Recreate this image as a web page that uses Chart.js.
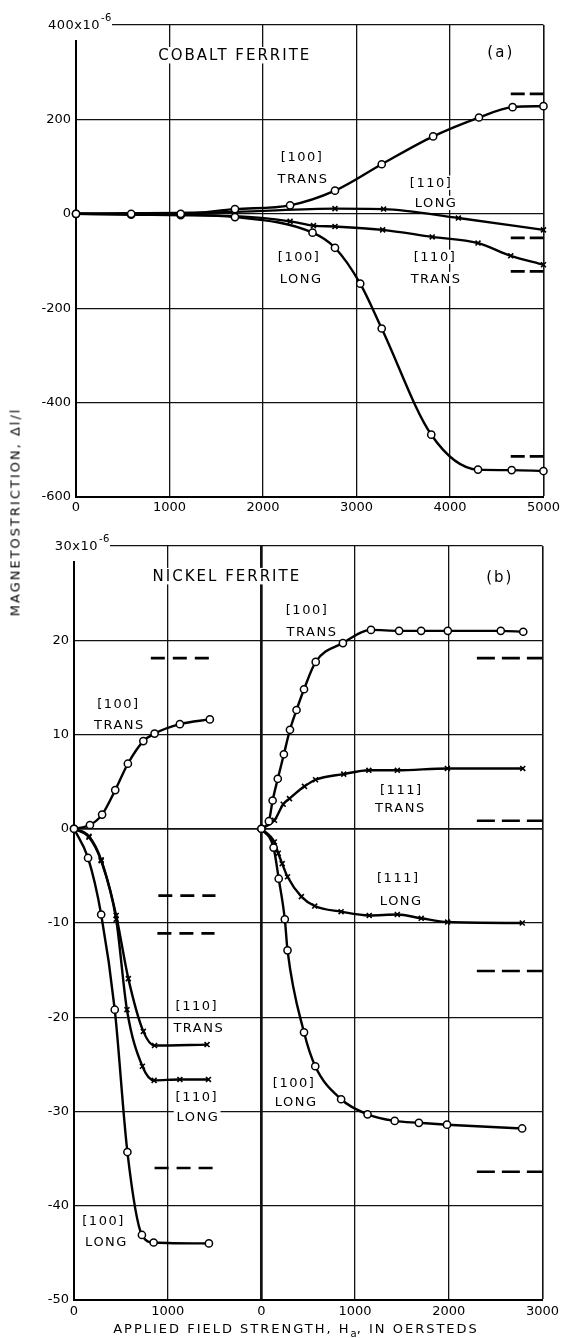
<!DOCTYPE html>
<html>
<head>
<meta charset="utf-8">
<script src="https://cdn.jsdelivr.net/npm/chart.js@4.4.0/dist/chart.umd.min.js"></script>
<style>
  body { margin: 0; background: #fff; }
  #page { position: relative; width: 563px; height: 1338px; overflow: hidden; font-family: "DejaVu Sans", sans-serif; color: #000; }
  canvas { position: absolute; left: 0; }
  #cobalt { top: 0; }
  #nickel { top: 520px; }
  .axis-title { position: absolute; font-size: 13px; letter-spacing: 2px; white-space: nowrap; }
  .axis-title sub { font-size: 10px; letter-spacing: 0; }
  #ytitle { left: 15px; top: 512px; transform: translate(-50%, -50%) rotate(-90deg); }
  #xtitle { left: 296px; top: 1330px; transform: translate(-50%, -50%); }
</style>
</head>
<body>
<div id="page">
  <canvas id="cobalt" width="563" height="520"></canvas>
  <canvas id="nickel" width="563" height="818"></canvas>
  <div class="axis-title" id="ytitle">MAGNETOSTRICTION, Δl/l</div>
  <div class="axis-title" id="xtitle">APPLIED FIELD STRENGTH, H<sub>a</sub>, IN OERSTEDS</div>
</div>
<script>
// (a) cobalt ferrite - field in oersteds, strain in units of 1e-6
const coField100T = [0, 590, 1120, 1700, 2290, 2770, 3270, 3820, 4310, 4670, 5000];
const co100Trans = [0, 0, 0, 10, 18, 49, 105, 164, 204, 226, 228];
const coField100L = [0, 590, 1120, 1700, 2530, 2770, 3040, 3270, 3800, 4300, 4660, 5000];
const co100Long = [0, -2, -3, -7, -40, -72, -148, -243, -468, -542, -543, -545];
const coField110L = [0, 1700, 2770, 3290, 4090, 5000];
const co110Long = [0, 4, 11, 10, -9, -34];
const coField110T = [0, 1700, 2290, 2540, 2770, 3280, 3810, 4300, 4650, 5000];
const co110Trans = [0, -5, -16, -25, -27, -34, -49, -62, -89, -108];
const coTheoryField = [4650, 5000];
const coTheory = [254, -51, -122, -514];

// (b) nickel ferrite, left panel
const niField100T = [0, 170, 300, 440, 575, 740, 860, 1130, 1450];
const ni100Trans = [0, 0.4, 1.5, 4.1, 6.9, 9.3, 10.1, 11.1, 11.6];
const niField100L = [0, 150, 290, 435, 570, 725, 850, 1440];
const ni100Long = [0, -3.1, -9.1, -19.2, -34.3, -43.1, -43.9, -44.0];
const niField110T = [0, 160, 290, 450, 580, 740, 860, 1420];
const ni110Trans = [0, -0.8, -3.3, -9.2, -15.9, -21.5, -23.0, -22.9];
const niField110L = [0, 160, 290, 450, 565, 730, 855, 1130, 1435];
const ni110Long = [0, -0.9, -3.4, -9.6, -19.2, -25.2, -26.7, -26.6, -26.6];
const niTheoryFrom = [820, 900, 890, 860];
const niTheoryTo = [1450, 1510, 1500, 1520];
const niTheory = [18.1, -7.1, -11.1, -36.0];

// (b) nickel ferrite, right panel (its zero sits at 2000 on the shared axis)
const rightOrigin = 2000;
const niRField100T = [0, 80, 120, 175, 240, 305, 375, 455, 580, 870, 1170, 1470, 1705, 1990, 2555, 2795];
const niR100Trans = [0, 0.8, 3.0, 5.3, 7.9, 10.5, 12.6, 14.8, 17.7, 19.7, 21.1, 21.0, 21.0, 21.0, 21.0, 20.9];
const niRField111T = [0, 140, 233, 300, 460, 578, 879, 1147, 1451, 1985, 2790];
const niR111Trans = [0, 0.9, 2.6, 3.2, 4.5, 5.2, 5.8, 6.2, 6.2, 6.4, 6.4];
const niRField111L = [0, 138, 180, 222, 279, 427, 569, 851, 1151, 1451, 1706, 1988, 2785];
const niR111Long = [0, -1.4, -2.6, -3.7, -5.1, -7.2, -8.2, -8.8, -9.2, -9.1, -9.5, -9.9, -10.0];
const niRField100L = [0, 130, 185, 250, 279, 455, 575, 851, 1133, 1423, 1681, 1981, 2783];
const niR100Long = [0, -2.0, -5.3, -9.6, -12.9, -21.6, -25.2, -28.7, -30.3, -31.0, -31.2, -31.4, -31.8];
const niRTheoryField = [2300, 3000];
const niRTheory = [18.1, 0.85, -15.1, -36.4];

// text on the plots, anchored in data units
const coTitles = [['COBALT FERRITE', 1688, 336], ['(a)', 4533, 343]];
const coNotes = [
  ['[100]', 2410, 121], ['TRANS', 2420, 74],
  ['[110]', 3790, 66], ['LONG', 3843, 23],
  ['[100]', 2378, -91], ['LONG', 2400, -138],
  ['[110]', 3832, -91], ['TRANS', 3843, -138],
];
const niTitles = [['NICKEL FERRITE', 1621, 26.8], ['(b)', 4534, 26.7]];
const niNotes = [
  ['[100]', 466, 13.3], ['TRANS', 477, 11.1],
  ['[100]', 2479, 23.2], ['TRANS', 2532, 20.9],
  ['[111]', 3485, 4.1], ['TRANS', 3475, 2.2],
  ['[111]', 3453, -5.2], ['LONG', 3485, -7.6],
  ['[100]', 2341, -26.9], ['LONG', 2362, -29.0],
  ['[110]', 1303, -18.8], ['TRANS', 1324, -21.1],
  ['[110]', 1303, -28.4], ['LONG', 1314, -30.5],
  ['[100]', 307, -41.6], ['LONG', 339, -43.8],
];

Chart.defaults.font.family = 'DejaVu Sans';
Chart.defaults.font.size = 13;
Chart.defaults.color = '#000';
Chart.defaults.animation = false;

const pts = (xs, ys, shift = 0) => xs.map((v, i) => ({ x: v + shift, y: ys[i] }));

function curve(data, marker, hideUpTo = -1) {
  const cross = marker === 'x';
  return {
    data,
    borderColor: '#000',
    borderWidth: 2.4,
    cubicInterpolationMode: 'monotone',
    pointStyle: cross ? 'crossRot' : 'circle',
    pointRadius: (c) => (c.raw && c.raw.x <= hideUpTo ? 0 : (cross ? 3.5 : 3.6)),
    pointBackgroundColor: '#fff',
    pointBorderColor: '#000',
    pointBorderWidth: cross ? 1.6 : 1.5,
    fill: false,
    clip: false,
  };
}

function theory(x0, x1, v, dash) {
  return {
    data: [{ x: x0, y: v }, { x: x1, y: v }],
    borderColor: '#000',
    borderWidth: 2.6,
    borderDash: dash,
    pointRadius: 0,
    fill: false,
    clip: false,
  };
}

const figureText = {
  id: 'figureText',
  beforeDatasetsDraw(chart, args, opts) {
    const { ctx, chartArea, scales: { x, y } } = chart;
    ctx.save();
    ctx.textAlign = 'center';
    ctx.textBaseline = 'middle';
    const put = (text, px, py, size, spacing) => {
      ctx.font = size + 'px "DejaVu Sans"';
      ctx.letterSpacing = spacing + 'px';
      const w = ctx.measureText(text).width;
      ctx.fillStyle = '#fff';
      ctx.fillRect(px - w / 2 - 2, py - size * 0.55, w + 4, size * 1.1);
      ctx.fillStyle = '#000';
      ctx.fillText(text, px + spacing / 2, py + 1);
    };
    opts.titles.forEach(([t, vx, vy]) => put(t, x.getPixelForValue(vx), y.getPixelForValue(vy), 15, 2));
    opts.notes.forEach(([t, vx, vy]) => put(t, x.getPixelForValue(vx), y.getPixelForValue(vy), 13, 1.5));

    // "x10^-6" unit written on the top tick
    const ty = y.getPixelForValue(y.max);
    const ax = chartArea.left;
    ctx.fillStyle = '#fff';
    ctx.fillRect(ax - 40, ty - 14, 76, 29);
    ctx.fillStyle = '#000';
    ctx.letterSpacing = '0.5px';
    ctx.font = '13px "DejaVu Sans"';
    ctx.textAlign = 'right';
    ctx.fillText(opts.unit[0], ax + 24, ty + 1);
    ctx.font = '10px "DejaVu Sans"';
    ctx.textAlign = 'left';
    ctx.fillText(opts.unit[1], ax + 25, ty - 7);
    ctx.restore();
  },
};

function makeScales(o) {
  return {
    x: {
      type: 'linear', min: 0, max: 5000,
      afterFit: (s) => { s.height = o.xHeight; },
      ticks: { stepSize: 1000, autoSkip: false, maxRotation: 0, padding: o.xPad, callback: o.xLabel },
      grid: { color: '#111', drawTicks: false, lineWidth: (c) => o.xWidth(c.tick ? c.tick.value : null) },
      border: { display: true, color: '#000', width: 2 },
    },
    y: {
      type: 'linear', min: o.yMin, max: o.yMax,
      afterFit: (s) => { s.width = o.yWidth; },
      ticks: { stepSize: o.yStep, autoSkip: false, padding: 5, callback: (v) => (v === o.yMax ? '' : String(v)) },
      grid: { color: '#111', drawTicks: false, lineWidth: (c) => o.yWidth2(c.tick ? c.tick.value : null) },
      border: { display: true, color: '#000', width: 2 },
    },
  };
}

new Chart(document.getElementById('cobalt'), {
  type: 'line',
  data: {
    datasets: [
      curve(pts(coField100T, co100Trans), 'o'),
      curve(pts(coField100L, co100Long), 'o'),
      curve(pts(coField110L, co110Long), 'x', 1700),
      curve(pts(coField110T, co110Trans), 'x', 1700),
      ...coTheory.map((v) => theory(coTheoryField[0], coTheoryField[1], v, [14, 5])),
    ],
  },
  options: {
    responsive: false,
    devicePixelRatio: 1,
    layout: { padding: { left: 0, right: 16, top: 25, bottom: 0 } },
    plugins: {
      legend: { display: false },
      tooltip: { enabled: false },
      figureText: { titles: coTitles, notes: coNotes, unit: ['400x10', '-6'] },
    },
    scales: makeScales({
      xHeight: 23, xPad: 3, xLabel: (v) => String(v),
      xWidth: (v) => (v === 0 ? 2 : v === 5000 ? 1.6 : 1.3),
      yMin: -600, yMax: 400, yStep: 200, yWidth: 76,
      yWidth2: (v) => (v === -600 ? 2 : 1.3),
    }),
  },
  plugins: [figureText],
});

new Chart(document.getElementById('nickel'), {
  type: 'line',
  data: {
    datasets: [
      curve(pts(niField100T, ni100Trans), 'o'),
      curve(pts(niField100L, ni100Long), 'o'),
      curve(pts(niRField100T, niR100Trans, rightOrigin), 'o'),
      curve(pts(niRField100L, niR100Long, rightOrigin), 'o'),
      curve(pts(niField110T, ni110Trans), 'x', 0),
      curve(pts(niField110L, ni110Long), 'x', 0),
      curve(pts(niRField111T, niR111Trans, rightOrigin), 'x', rightOrigin),
      curve(pts(niRField111L, niR111Long, rightOrigin), 'x', rightOrigin),
      ...niTheory.map((v, i) => theory(niTheoryFrom[i], niTheoryTo[i], v, [14, 8])),
      ...niRTheory.map((v) => theory(niRTheoryField[0] + rightOrigin, niRTheoryField[1] + rightOrigin, v, [18, 7])),
    ],
  },
  options: {
    responsive: false,
    devicePixelRatio: 1,
    layout: { padding: { left: 0, right: 17, top: 26, bottom: 0 } },
    plugins: {
      legend: { display: false },
      tooltip: { enabled: false },
      figureText: { titles: niTitles, notes: niNotes, unit: ['30x10', '-6'] },
    },
    scales: makeScales({
      xHeight: 38, xPad: 4,
      xLabel: (v) => String(v < rightOrigin ? v : v - rightOrigin),
      xWidth: (v) => (v === 0 ? 2 : v === rightOrigin ? 2.7 : v === 5000 ? 1.6 : 1.3),
      yMin: -50, yMax: 30, yStep: 10, yWidth: 74,
      yWidth2: (v) => (v === -50 ? 2 : v === 0 ? 1.8 : 1.3),
    }),
  },
  plugins: [figureText],
});
</script>
</body>
</html>
